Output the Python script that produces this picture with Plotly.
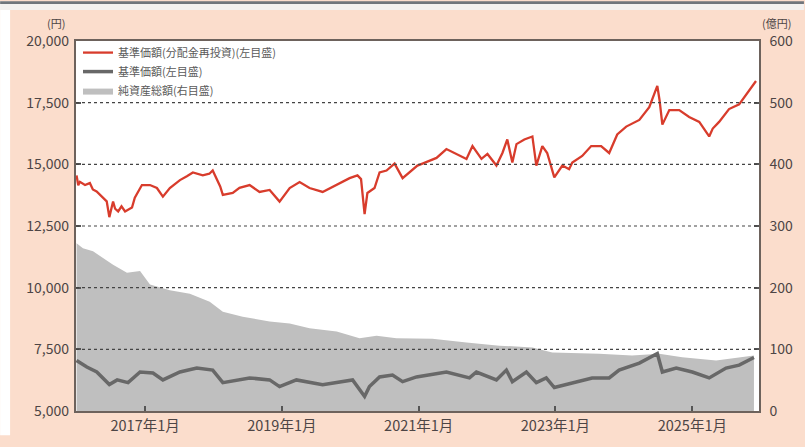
import plotly.graph_objects as go

# 基準価額（分配金再投資）— 左目盛（円）
nav_reinvest_dates = [
    "2016-01-01", "2016-01-10", "2016-01-19", "2016-02-15", "2016-03-12", "2016-03-28",
    "2016-04-17", "2016-05-21", "2016-06-10", "2016-06-24", "2016-07-14", "2016-07-25",
    "2016-08-10", "2016-08-28", "2016-09-16", "2016-10-23", "2016-11-07", "2016-12-15",
    "2017-01-27", "2017-03-05", "2017-04-06", "2017-05-13", "2017-07-06", "2017-08-12",
    "2017-09-13", "2017-11-05", "2017-12-10", "2017-12-28", "2018-02-06", "2018-02-20",
    "2018-04-14", "2018-05-20", "2018-07-13", "2018-09-04", "2018-10-28", "2018-12-20",
    "2019-02-12", "2019-04-06", "2019-05-29", "2019-08-07", "2019-10-21", "2019-12-29",
    "2020-02-09", "2020-02-28", "2020-03-18", "2020-04-02", "2020-05-10", "2020-06-06",
    "2020-07-13", "2020-08-25", "2020-10-07", "2020-11-13", "2020-12-25", "2021-01-21",
    "2021-04-06", "2021-05-29", "2021-07-22", "2021-09-13", "2021-10-15", "2021-12-02",
    "2022-01-03", "2022-02-20", "2022-03-24", "2022-04-19", "2022-05-16", "2022-06-07",
    "2022-07-19", "2022-08-31", "2022-09-21", "2022-10-23", "2022-11-18", "2022-12-26",
    "2023-02-07", "2023-03-15", "2023-04-01", "2023-05-24", "2023-07-11", "2023-09-02",
    "2023-10-15", "2023-11-27", "2024-01-14", "2024-03-24", "2024-05-16", "2024-06-28",
    "2024-07-10", "2024-07-25", "2024-08-31", "2024-10-23", "2024-12-15", "2025-02-07",
    "2025-04-01", "2025-04-20", "2025-05-24", "2025-07-16", "2025-09-08", "2025-10-15",
    "2025-12-07",
]
nav_reinvest = [
    14550, 14150, 14290, 14160, 14240, 13980,
    13900, 13650, 13500, 12860, 13490, 13200,
    13090, 13300, 13090, 13250, 13650, 14160,
    14160, 14040, 13690, 14040, 14360, 14520,
    14670, 14550, 14620, 14750, 14100, 13760,
    13840, 14050, 14160, 13880, 13960, 13490,
    14040, 14280, 14040, 13880, 14160, 14440,
    14550, 14400, 12980, 13840, 14040, 14670,
    14750, 15030, 14440, 14670, 14950, 15030,
    15260, 15620, 15420, 15220, 15740, 15220,
    15420, 14950, 15460, 16010, 15070, 15820,
    16010, 16130, 14950, 15740, 15460, 14470,
    14950, 14800, 15070, 15340, 15740, 15740,
    15460, 16210, 16530, 16800, 17320, 18180,
    17600, 16610, 17200, 17200, 16920, 16720,
    16130, 16450, 16720, 17240, 17430, 17830,
    18380,
]

# 基準価額 — 左目盛（円）
nav_dates = [
    "2016-01-01", "2016-02-25", "2016-04-18", "2016-06-24", "2016-08-05", "2016-10-02",
    "2016-12-05", "2017-02-12", "2017-04-06", "2017-07-06", "2017-10-04", "2017-12-28",
    "2018-02-20", "2018-07-13", "2018-10-28", "2018-12-20", "2019-03-20", "2019-08-07",
    "2020-01-14", "2020-03-18", "2020-04-13", "2020-06-06", "2020-08-14", "2020-10-07",
    "2020-12-20", "2021-05-29", "2021-09-29", "2021-11-05", "2022-02-20", "2022-04-14",
    "2022-05-16", "2022-07-30", "2022-09-21", "2022-11-13", "2022-12-26", "2023-04-01",
    "2023-07-16", "2023-10-15", "2023-12-07", "2024-03-24", "2024-06-28", "2024-07-25",
    "2024-10-07", "2025-01-01", "2025-04-01", "2025-06-30", "2025-09-08", "2025-11-26",
]
nav = [
    7050, 6780, 6580, 6070, 6260, 6150,
    6580, 6540, 6260, 6580, 6740, 6660,
    6150, 6340, 6260, 5990, 6260, 6070,
    6260, 5590, 5990, 6380, 6460, 6190,
    6380, 6580, 6340, 6580, 6260, 6660,
    6190, 6580, 6150, 6340, 5950, 6150,
    6340, 6340, 6660, 6940, 7330, 6580,
    6740, 6580, 6340, 6740, 6860, 7170,
]

# 純資産総額 — 右目盛（億円）
aum_dates = [
    "2016-01-01", "2016-02-04", "2016-03-29", "2016-05-21", "2016-07-14", "2016-09-26",
    "2016-12-05", "2017-01-27", "2017-05-13", "2017-08-28", "2017-12-12", "2018-02-20",
    "2018-06-06", "2018-10-28", "2019-02-12", "2019-05-29", "2019-10-21", "2020-02-20",
    "2020-05-21", "2020-09-04", "2020-12-20", "2021-03-15", "2021-09-13", "2022-03-08",
    "2022-08-31", "2022-12-15", "2023-08-22", "2024-02-14", "2024-07-08", "2024-11-08",
    "2025-05-08", "2025-11-26",
]
aum = [
    272, 264, 259, 248, 237, 224,
    227, 205, 196, 190, 177, 161,
    153, 145, 142, 134, 129, 118,
    122, 118, 117, 117, 111, 106,
    103, 95, 93, 90, 93, 87,
    82, 90,
]

left_ticks = [5000, 7500, 10000, 12500, 15000, 17500, 20000]
right_ticks = [0, 100, 200, 300, 400, 500, 600]
x_ticks = ["2017-01-01", "2019-01-01", "2021-01-01", "2023-01-01", "2025-01-01"]
x_tick_labels = ["2017年1月", "2019年1月", "2021年1月", "2023年1月", "2025年1月"]

AUM_RANGE = [0, 600]
NAV_RANGE = [5000, 20000]

W, H = 805, 447
ML, MR, MT, MB = 76, 45, 41, 25
PW, PH = W - ML - MR, H - MT - MB


def px(xp):
    return (xp - ML) / PW


def py(yp):
    return 1 + (MT - yp) / PH


FONT = "Noto Sans CJK JP"
TXT = "#4d4545"
FRAME = "#6d625c"
PEACH = "#fbddcc"

fig = go.Figure()

# Net assets sit on the base (right-hand) axis; the yen axis is overlaid so
# both price lines are drawn on top of the grey area.
fig.add_trace(go.Scatter(
    x=aum_dates, y=aum, yaxis="y", mode="lines",
    line=dict(width=0, color="#bfbfbf"), fill="tozeroy", fillcolor="#bfbfbf",
    name="純資産総額(右目盛)", legendrank=3,
))
fig.add_trace(go.Scatter(
    x=nav_dates, y=nav, yaxis="y2", mode="lines",
    line=dict(width=3.5, color="#686868"),
    name="基準価額(左目盛)", legendrank=2,
))
fig.add_trace(go.Scatter(
    x=nav_reinvest_dates, y=nav_reinvest, yaxis="y2", mode="lines",
    line=dict(width=2.3, color="#d83c2c"),
    name="基準価額(分配金再投資)(左目盛)", legendrank=1,
))

# Dotted horizontal rules at the inner yen ticks, placed in the top shape
# layer (paper coordinates) so they stay visible across the grey area
grid_rules = [
    dict(type="line", xref="paper", yref="paper", layer="above",
         x0=0, x1=1,
         y0=(v - NAV_RANGE[0]) / (NAV_RANGE[1] - NAV_RANGE[0]),
         y1=(v - NAV_RANGE[0]) / (NAV_RANGE[1] - NAV_RANGE[0]),
         line=dict(color="#444444", width=1.2, dash="dot"))
    for v in left_ticks[1:-1]
]

fig.update_layout(
    width=W, height=H,
    margin=dict(l=ML, r=MR, t=MT, b=MB),
    paper_bgcolor=PEACH, plot_bgcolor="white",
    font=dict(family=FONT, color=TXT, size=13),
    showlegend=True,
    legend=dict(
        x=px(78), y=py(38), xanchor="left", yanchor="top",
        bgcolor="rgba(0,0,0,0)", font=dict(size=11, color="#5a5a5a"),
        itemwidth=30, tracegroupgap=0,
    ),
    xaxis=dict(
        type="date", range=["2015-12-29", "2025-12-23"],
        tickvals=x_ticks, ticktext=x_tick_labels,
        ticks="inside", ticklen=5, tickwidth=1.5, tickcolor="#555",
        showgrid=False, zeroline=False,
        showline=True, mirror=True, linecolor=FRAME, linewidth=1.5,
        tickfont=dict(size=14.5, color=TXT), ticklabelstandoff=1,
    ),
    yaxis=dict(
        range=AUM_RANGE, tickvals=right_ticks, side="right",
        ticks="inside", ticklen=5, tickwidth=1.5, tickcolor="#555",
        showgrid=False, zeroline=False,
        showline=True, mirror=True, linecolor=FRAME, linewidth=1.5,
        tickfont=dict(size=14, color=TXT), ticklabelstandoff=6,
    ),
    yaxis2=dict(
        range=NAV_RANGE, tickvals=left_ticks, tickformat=",d",
        overlaying="y", side="left",
        ticks="inside", ticklen=5, tickwidth=1.5, tickcolor="#555",
        showgrid=False, zeroline=False,
        tickfont=dict(size=14, color=TXT), ticklabelstandoff=6,
    ),
    shapes=grid_rules + [
        dict(type="rect", xref="paper", yref="paper", layer="above",
             x0=px(0), x1=px(10), y0=py(H), y1=py(0),
             fillcolor="white", line=dict(width=0)),
        dict(type="rect", xref="paper", yref="paper", layer="above",
             x0=px(0), x1=px(W), y0=py(9), y1=py(3),
             fillcolor="#f4f1ef", line=dict(width=0)),
        dict(type="rect", xref="paper", yref="paper", layer="above",
             x0=px(0), x1=px(W), y0=py(3), y1=py(0),
             fillcolor="#70757b", line=dict(width=0)),
    ],
    annotations=[
        dict(text="(円)", xref="paper", yref="paper", x=px(67), y=py(22),
             xanchor="right", yanchor="middle", showarrow=False,
             font=dict(size=11, color=TXT)),
        dict(text="(億円)", xref="paper", yref="paper", x=px(794), y=py(22),
             xanchor="right", yanchor="middle", showarrow=False,
             font=dict(size=11, color=TXT)),
    ],
)

fig.write_html("out.html")
